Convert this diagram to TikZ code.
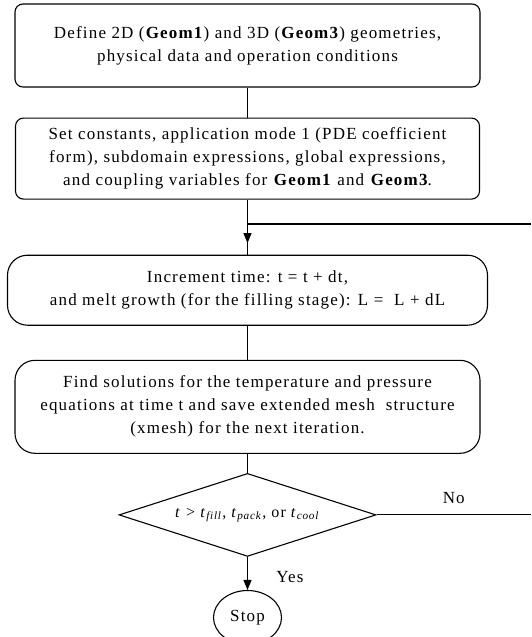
\documentclass[tikz,border=0pt]{standalone}
\usepackage{fontspec}
\setmainfont{Liberation Serif}[LetterSpace=7]
\usepackage{tikz}
\usetikzlibrary{arrows.meta, positioning, shapes.geometric, decorations.markings}

\begin{document}
\begin{tikzpicture}[x=1pt,y=1pt,line width=1.1pt,>={Triangle[length=10pt,width=8pt]},
        font=\fontsize{17}{23}\selectfont]
                \tikzset{box/.style={draw, rounded corners=8pt, align=center, inner sep=0pt},
                         roundbox/.style={box, rounded corners=20pt},
                         midarrow/.style={postaction={decorate}, decoration={markings,
                             mark=at position 0.79 with {\arrow{>}}}}}
                \useasboundingbox (0,0) rectangle (531,-637);
                \node[box, minimum width=465pt, minimum height=83pt] (def) at (247.5,-45.5)
                    {Define 2D (\textbf{Geom1}) and 3D (\textbf{Geom3}) geometries,\\physical data and operation conditions};
                \node[box, minimum width=464pt, minimum height=81pt] (set) [below=30pt of def]
                    {Set constants, application mode 1 (PDE coefficient\\form), subdomain expressions, global expressions,\\and coupling variables for \textbf{Geom1} and \textbf{Geom3}.};
                \node[roundbox, minimum width=480pt, minimum height=70pt] (incr) [below=55pt of set]
                    {Increment time: t = t + dt,\\and melt growth (for the filling stage): L =~ L + dL};
                \node[roundbox, minimum width=465pt, minimum height=93pt] (solve) [below=34pt of incr]
                    {Find solutions for the temperature and pressure\\equations at time t and save extended mesh~ structure\\(xmesh) for the next iteration.};
                \node[draw, diamond, aspect=3.1, minimum width=257pt, minimum height=83pt, inner sep=0pt,
                      font=\fontsize{16}{18}\selectfont] (check) [below=19pt of solve]
                    {\textit{t} > \textit{t}\textsubscript{\textit{fill}}, \textit{t}\textsubscript{\textit{pack}}, or \textit{t}\textsubscript{\textit{cool}}};
                \node[draw, ellipse, minimum width=68pt, minimum height=54pt, inner sep=0pt] (stop) [below=33pt of check] {Stop};
                \coordinate (back) at (531,-224);
                \coordinate (noend) at (check.east -| back);
                \path (def) edge (set);
                \draw[midarrow] (set) -- (incr);
                \draw (back) -- (back -| set.south);
                \path (incr) edge (solve);
                \path (solve) edge (check);
                \draw[->] (check) -- node[right=25pt, pos=0.6] {Yes} (stop);
                \draw (check.east) -- node[above=7pt, pos=0.5] {No} (noend);
            \end{tikzpicture}
\end{document}
